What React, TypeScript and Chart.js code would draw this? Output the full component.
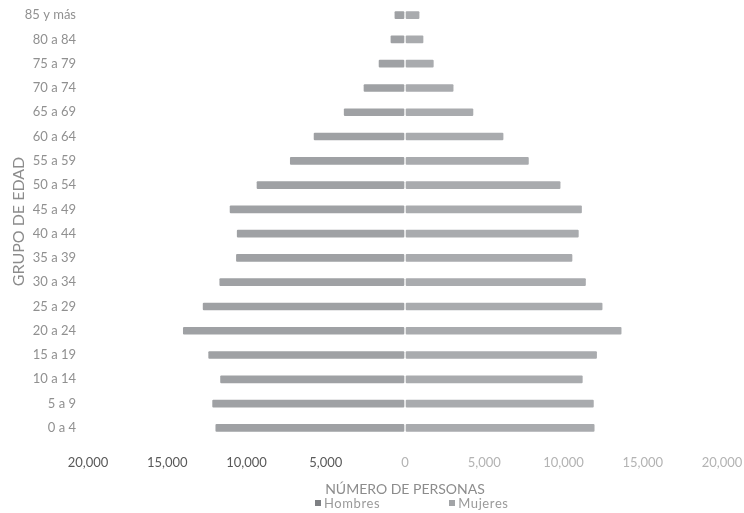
import React, { useEffect, useRef } from "react";
import { Chart, registerables } from "chart.js";

Chart.register(...registerables);

// Age groups, youngest first (drawn bottom to top)
const ageGroups = [
  "0 a 4", "5 a 9", "10 a 14", "15 a 19", "20 a 24", "25 a 29",
  "30 a 34", "35 a 39", "40 a 44", "45 a 49", "50 a 54", "55 a 59",
  "60 a 64", "65 a 69", "70 a 74", "75 a 79", "80 a 84", "85 y más",
];

const hombres = [
  12000, 12200, 11700, 12450, 14050, 12800, 11750, 10700, 10650,
  11100, 9400, 7300, 5800, 3900, 2650, 1700, 950, 700,
];

const mujeres = [
  12000, 11950, 11250, 12150, 13700, 12500, 11450, 10600, 11000,
  11200, 9850, 7850, 6250, 4350, 3100, 1850, 1200, 950,
];

const xMin = -20000;
const xMax = 20000;
const xStep = 5000;

const FONT = 'Lato, "Open Sans", "DejaVu Sans", sans-serif';
const HOMBRES_COLOR = "#9fa1a4";
const MUJERES_COLOR = "#a9abae";

export default function App() {
  const canvasRef = useRef<HTMLCanvasElement | null>(null);

  useEffect(() => {
    if (!canvasRef.current) return;
    const chart = new Chart(canvasRef.current, {
      type: "bar",
      data: {
        labels: ageGroups,
        datasets: [
          {
            label: "Hombres",
            data: hombres.map((v) => -v),
            backgroundColor: HOMBRES_COLOR,
            borderColor: "#ffffff",
            borderWidth: 1,
            borderSkipped: false,
            borderRadius: 2,
            barThickness: 9,
          },
          {
            label: "Mujeres",
            data: mujeres,
            backgroundColor: MUJERES_COLOR,
            borderColor: "#ffffff",
            borderWidth: 1,
            borderSkipped: false,
            borderRadius: 2,
            barThickness: 9,
          },
        ],
      },
      options: {
        indexAxis: "y",
        responsive: true,
        maintainAspectRatio: false,
        animation: false,
        layout: { padding: { top: 3, right: 22, bottom: 15, left: 0 } },
        plugins: {
          legend: { display: false },
          tooltip: { enabled: false },
        },
        scales: {
          x: {
            stacked: true,
            min: xMin,
            max: xMax,
            grid: { display: false, drawTicks: false },
            border: { display: false },
            ticks: {
              stepSize: xStep,
              padding: 15,
              font: { family: FONT, size: 13 },
              color: (ctx: any) => (ctx.tick && ctx.tick.value < 0 ? "#595959" : "#b3b3b3"),
              callback: (value: any) => Math.abs(Number(value)).toLocaleString("en-US"),
            },
            title: {
              display: true,
              text: "NÚMERO DE PERSONAS",
              color: "#8c8c8c",
              font: { family: FONT, size: 14 },
              padding: { top: 4, bottom: 0 },
            },
            afterFit: (scale: any) => {
              scale.height = 58;
              scale.paddingLeft = 0;
              scale.paddingRight = 0;
            },
          },
          y: {
            stacked: true,
            reverse: true,
            grid: { display: false, drawTicks: false },
            border: { display: false },
            ticks: {
              padding: 12,
              color: "#909090",
              font: { family: FONT, size: 13 },
            },
            title: {
              display: true,
              text: "GRUPO DE EDAD",
              color: "#8c8c8c",
              font: { family: FONT, size: 16 },
              padding: { top: 9, bottom: 0 },
            },
            afterFit: (scale: any) => {
              scale.width = 88;
              scale.paddingTop = 0;
              scale.paddingBottom = 0;
            },
          },
        },
      },
    });
    return () => chart.destroy();
  }, []);

  const legendItem = (color: string, text: string) => (
    <div style={{ display: "flex", alignItems: "center" }}>
      <span
        style={{
          display: "inline-block",
          width: 6,
          height: 6,
          background: color,
          marginRight: 3,
        }}
      />
      <span style={{ color: "#9a9a9a", fontSize: 13, fontFamily: FONT, letterSpacing: 0.6 }}>
        {text}
      </span>
    </div>
  );

  return (
    <div
      style={{
        position: "absolute",
        left: 0,
        top: 0,
        width: 744,
        height: 513,
        background: "#ffffff",
        overflow: "hidden",
      }}
    >
      <canvas ref={canvasRef} />
      <div
        style={{
          position: "absolute",
          left: 315,
          top: 495,
          display: "flex",
          gap: 69,
          lineHeight: "16px",
        }}
      >
        {legendItem("#7e8083", "Hombres")}
        {legendItem("#a2a4a7", "Mujeres")}
      </div>
    </div>
  );
}
